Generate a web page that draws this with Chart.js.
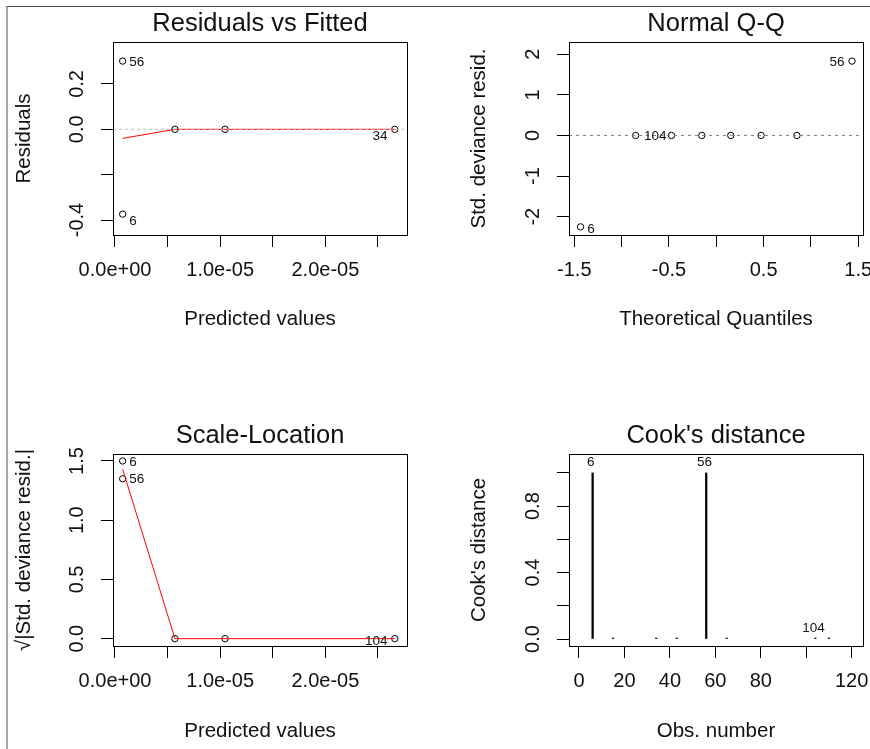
<!DOCTYPE html>
<html>
<head>
<meta charset="utf-8">
<script src="https://cdn.jsdelivr.net/npm/chart.js@4"></script>
<style>
  html, body { margin: 0; background: #fff; overflow: hidden; }
  #frame { position: absolute; left: 6px; top: 6px; width: 862px; height: 742px;
           border-top: 1px solid #505050; border-left: 2px solid #a8a8a8; }
  canvas { position: absolute; }
</style>
</head>
<body>
<div id="frame"></div>
<canvas id="rvf" width="435" height="370" style="left:0;top:0"></canvas>
<canvas id="qq" width="435" height="370" style="left:435px;top:0"></canvas>
<canvas id="sl" width="435" height="379" style="left:0;top:370px"></canvas>
<canvas id="cook" width="435" height="379" style="left:435px;top:370px"></canvas>
<script>
const FONT = '"Liberation Sans", Arial, sans-serif';
const INK = '#111';

// Residuals vs Fitted
const fittedX = [0.73e-6, 0.73e-6, 5.7e-6, 10.46e-6, 26.6e-6];
const residY = [0.301, -0.374, 0, 0, 0];
const residLabels = ['56', '6', '', '', '34'];
const smoothX = [0.73e-6, 5.7e-6, 10.46e-6, 26.6e-6];
const residSmooth = [-0.04, 0, 0, 0];
const fittedTicks = [0, 5e-6, 1e-5, 1.5e-5, 2e-5, 2.5e-5];
const fittedTickLabels = ['0.0e+00', '', '1.0e-05', '', '2.0e-05', ''];
const residTicks = [-0.4, -0.2, 0, 0.2];
const residTickLabels = ['-0.4', '', '0.0', '0.2'];

// Normal Q-Q
const qqX = [-1.434, -0.852, -0.473, -0.153, 0.153, 0.473, 0.852, 1.434];
const qqY = [-2.25, 0, 0, 0, 0, 0, 0, 1.83];
const qqLabels = ['6', '104', '', '', '', '', '', '56'];
const qqXTicks = [-1.5, -1, -0.5, 0, 0.5, 1, 1.5];
const qqXTickLabels = ['-1.5', '', '-0.5', '', '0.5', '', '1.5'];
const qqYTicks = [-2, -1, 0, 1, 2];
const qqYTickLabels = ['-2', '-1', '0', '1', '2'];

// Scale-Location
const slY = [1.50, 1.35, 0, 0, 0];
const slLabels = ['6', '56', '', '', '104'];
const slSmooth = [1.43, 0, 0, 0];
const slTicks = [0, 0.5, 1, 1.5];
const slTickLabels = ['0.0', '0.5', '1.0', '1.5'];

// Cook's distance
const cookObs = [6, 15, 34, 43, 56, 65, 104, 110];
const cookD = [1.0, 0.006, 0.006, 0.006, 1.0, 0.006, 0.006, 0.006];
const cookLabels = ['6', '', '', '', '56', '', '104', ''];
const obsTicks = [0, 20, 40, 60, 80, 100, 120];
const obsTickLabels = ['0', '20', '40', '60', '80', '', '120'];
const cookTicks = [0, 0.2, 0.4, 0.6, 0.8, 1.0];
const cookTickLabels = ['0.0', '', '0.4', '', '0.8', ''];

const pts = (xs, ys) => xs.map((x, i) => ({x: x, y: ys[i]}));

// box, rotated y tick labels, point labels
const rPlot = {
  id: 'rPlot',
  afterDraw(chart, args, o) {
    const ctx = chart.ctx, a = chart.chartArea;
    ctx.save();
    ctx.strokeStyle = '#000';
    ctx.lineWidth = 1;
    ctx.strokeRect(Math.round(a.left) + 0.5, Math.round(a.top) + 0.5,
                   Math.round(a.right - a.left), Math.round(a.bottom - a.top));

    const ys = chart.scales.y;
    ctx.fillStyle = INK;
    ctx.font = '20px ' + FONT;
    ctx.textAlign = 'center';
    ctx.textBaseline = 'alphabetic';
    ys.ticks.forEach((t, i) => {
      const lab = o.yLabels[i];
      if (!lab) return;
      ctx.save();
      ctx.translate(ys.right - 30, ys.getPixelForValue(t.value));
      ctx.rotate(-Math.PI / 2);
      ctx.fillText(lab, 0, 0);
      ctx.restore();
    });

    const meta = chart.getDatasetMeta(o.dataset);
    ctx.font = '13.5px ' + FONT;
    ctx.textBaseline = 'middle';
    o.text.forEach((lab, i) => {
      if (!lab) return;
      const el = meta.data[i];
      const [dx, dy, align] = o.place[i];
      ctx.textAlign = align;
      ctx.fillText(lab, el.x + dx, el.y + dy);
    });
    ctx.restore();
  }
};

function rChart(id, c) {
  return new Chart(document.getElementById(id), {
    type: c.type || 'scatter',
    data: { datasets: c.datasets },
    options: {
      responsive: false,
      animation: false,
      devicePixelRatio: 1,
      layout: { padding: { left: 0, top: 0, bottom: 0, right: c.padRight } },
      plugins: {
        legend: { display: false },
        tooltip: { enabled: false },
        title: {
          display: true, text: c.title, fullSize: false, color: INK,
          font: { family: FONT, size: 25.5, weight: 'normal', lineHeight: 1.2 },
          padding: c.titlePad
        },
        rPlot: { yLabels: c.yLabels, dataset: c.labelSet, text: c.labels, place: c.place }
      },
      scales: {
        x: {
          type: 'linear', min: c.xMin, max: c.xMax, offset: false,
          afterBuildTicks: s => { s.ticks = c.xTicks.map(v => ({value: v})); },
          afterFit: s => { s.height = c.xHeight; s.paddingLeft = 0; s.paddingRight = 0; },
          ticks: {
            autoSkip: false, maxRotation: 0, padding: 11, color: INK,
            font: { family: FONT, size: 20 },
            callback: (v, i) => c.xLabels[i]
          },
          grid: { drawOnChartArea: false, offset: false, tickLength: 12, color: '#000', tickColor: '#000', lineWidth: 1 },
          border: { display: false },
          title: {
            display: true, text: c.xTitle, color: INK,
            font: { family: FONT, size: 20.5 },
            padding: { top: 0, bottom: c.xTitlePad }
          }
        },
        y: {
          type: 'linear', min: c.yMin, max: c.yMax,
          afterBuildTicks: s => { s.ticks = c.yTicks.map(v => ({value: v})); },
          afterFit: s => { s.width = c.yWidth; s.paddingTop = 0; s.paddingBottom = 0; },
          ticks: { display: false },
          grid: { drawOnChartArea: false, tickLength: 12, color: '#000', tickColor: '#000', lineWidth: 1 },
          border: { display: false },
          title: {
            display: true, text: c.yTitle, color: INK,
            font: { family: FONT, size: 20.5 },
            padding: { top: c.yTitlePad, bottom: 0 }
          }
        }
      }
    },
    plugins: [rPlot]
  });
}

const pointStyle = {
  showLine: false, pointRadius: 3.2, pointBorderWidth: 1,
  pointBorderColor: '#000', pointBackgroundColor: 'rgba(0,0,0,0)'
};

// top left
rChart('rvf', {
  title: 'Residuals vs Fitted', xTitle: 'Predicted values', yTitle: 'Residuals',
  xMin: -0.19e-6, xMax: 27.76e-6, yMin: -0.466, yMax: 0.385,
  xTicks: fittedTicks, xLabels: fittedTickLabels, yTicks: residTicks, yLabels: residTickLabels,
  padRight: 28, yWidth: 113, xHeight: 135,
  titlePad: { top: 8.2, bottom: 3.2 }, xTitlePad: 38.7, yTitlePad: 12.1,
  datasets: [
    { data: pts([-0.19e-6, 27.76e-6], [0, 0]), showLine: true, pointRadius: 0,
      borderColor: '#bebebe', borderWidth: 1, borderDash: [3, 3] },
    { data: pts(smoothX, residSmooth), showLine: true, pointRadius: 0,
      borderColor: '#ff0000', borderWidth: 1 },
    Object.assign({ data: pts(fittedX, residY) }, pointStyle)
  ],
  labelSet: 2, labels: residLabels,
  place: [[6.6, 1, 'left'], [6.6, 7.4, 'left'], null, null, [-7.3, 7.4, 'right']]
});

// top right
rChart('qq', {
  title: 'Normal Q-Q', xTitle: 'Theoretical Quantiles', yTitle: 'Std. deviance resid.',
  xMin: -1.556, xMax: 1.55, yMin: -2.45, yMax: 2.30,
  xTicks: qqXTicks, xLabels: qqXTickLabels, yTicks: qqYTicks, yLabels: qqYTickLabels,
  padRight: 7, yWidth: 134, xHeight: 135,
  titlePad: { top: 8.2, bottom: 3.2 }, xTitlePad: 38.7, yTitlePad: 32.1,
  datasets: [
    { data: pts([-1.556, 1.55], [0, 0]), showLine: true, pointRadius: 0,
      borderColor: '#7f7f7f', borderWidth: 1, borderDash: [3, 4] },
    Object.assign({ data: pts(qqX, qqY) }, pointStyle)
  ],
  labelSet: 1, labels: qqLabels,
  place: [[6.7, 2.6, 'left'], [8.3, 1.2, 'left'], null, null, null, null, null, [-7.4, 1, 'right']]
});

// bottom left
rChart('sl', {
  title: 'Scale-Location', xTitle: 'Predicted values', yTitle: '√|Std. deviance resid.|',
  xMin: -0.19e-6, xMax: 27.76e-6, yMin: -0.062, yMax: 1.559,
  xTicks: fittedTicks, xLabels: fittedTickLabels, yTicks: slTicks, yLabels: slTickLabels,
  padRight: 28, yWidth: 113, xHeight: 103,
  titlePad: { top: 50.7, bottom: 2.7 }, xTitlePad: 5.3, yTitlePad: 12.1,
  datasets: [
    { data: pts(smoothX, slSmooth), showLine: true, pointRadius: 0,
      borderColor: '#ff0000', borderWidth: 1 },
    Object.assign({ data: pts(fittedX, slY) }, pointStyle)
  ],
  labelSet: 1, labels: slLabels,
  place: [[6.6, 1, 'left'], [6.6, 0.7, 'left'], null, null, [-7.3, 3, 'right']]
});

// bottom right
rChart('cook', {
  type: 'bar',
  title: "Cook's distance", xTitle: 'Obs. number', yTitle: "Cook's distance",
  xMin: -4.4, xMax: 125, yMin: -0.042, yMax: 1.114,
  xTicks: obsTicks, xLabels: obsTickLabels, yTicks: cookTicks, yLabels: cookTickLabels,
  padRight: 7, yWidth: 134, xHeight: 103,
  titlePad: { top: 50.7, bottom: 2.7 }, xTitlePad: 5.3, yTitlePad: 32.1,
  datasets: [
    { data: pts(cookObs, cookD), backgroundColor: '#000', borderWidth: 0, barThickness: 1.6 }
  ],
  labelSet: 0, labels: cookLabels,
  place: [[-2, -10.4, 'center'], null, null, null, [-1.7, -10.4, 'center'], null, [-1.7, -10, 'center'], null]
});
</script>
</body>
</html>
